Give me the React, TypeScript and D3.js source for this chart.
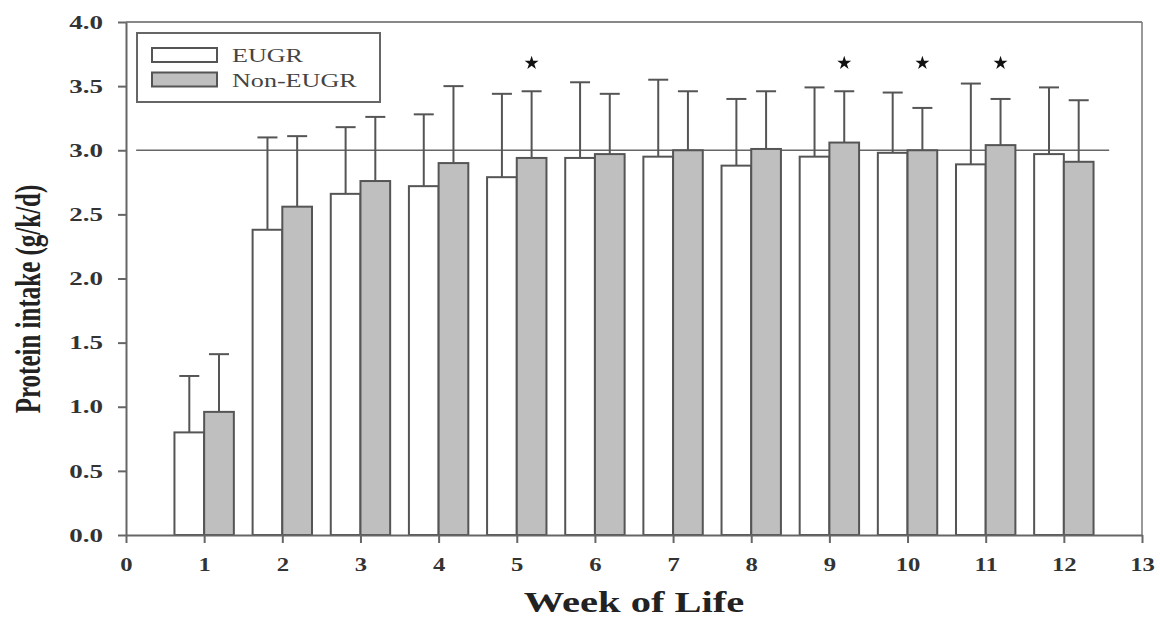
import {useEffect, useRef} from 'react'
import * as d3 from 'd3'

// values (mean and SD per week)
const weeks = [1, 2, 3, 4, 5, 6, 7, 8, 9, 10, 11, 12]
const eugrMean = [0.80, 2.38, 2.66, 2.72, 2.79, 2.94, 2.95, 2.88, 2.95, 2.98, 2.89, 2.97]
const eugrSd = [0.44, 0.72, 0.52, 0.56, 0.65, 0.59, 0.60, 0.52, 0.54, 0.47, 0.63, 0.52]
const nonMean = [0.96, 2.56, 2.76, 2.90, 2.94, 2.97, 3.00, 3.01, 3.06, 3.00, 3.04, 2.91]
const nonSd = [0.45, 0.55, 0.50, 0.60, 0.52, 0.47, 0.46, 0.45, 0.40, 0.33, 0.36, 0.48]
const starWeeks = [5, 9, 10, 11]
const yTicks = [0, 0.5, 1.0, 1.5, 2.0, 2.5, 3.0, 3.5, 4.0]
const xTicks = [0, 1, 2, 3, 4, 5, 6, 7, 8, 9, 10, 11, 12, 13]
const seriesNames = ['EUGR', 'Non-EUGR']
const target = 3.0

const FONT = '"Liberation Serif", "Times New Roman", serif'
const LINE = '#555'
const GREY = '#bfbfbf'

function App(){
    const svg = useRef(null)

    useEffect(() => {
        document.body.style.margin = '0'

        const x = d3.scaleLinear().domain([0, 13]).range([126, 1142])
        const y = d3.scaleLinear().domain([0, 4]).range([535, 22])
        const bw = 0.38

        const svgRef = d3.select(svg.current)
        svgRef.selectAll('*').remove()
        const g = svgRef.append('g')

        //frame: top and right sides
        g.append('line')
            .attr('x1', x(0)).attr('x2', x(13)).attr('y1', y(4)).attr('y2', y(4))
            .attr('stroke', '#888').attr('stroke-width', 2)
        g.append('line')
            .attr('x1', x(13)).attr('x2', x(13)).attr('y1', y(4)).attr('y2', y(0))
            .attr('stroke', '#777').attr('stroke-width', 1.5)

        //reference line at 3.0
        g.append('line')
            .attr('x1', x(0.13)).attr('x2', x(12.58)).attr('y1', y(target)).attr('y2', y(target))
            .attr('stroke', '#666').attr('stroke-width', 1.5)

        //bars
        const series = [
            {mean: eugrMean, sd: eugrSd, fill: '#fff', off: -bw},
            {mean: nonMean, sd: nonSd, fill: GREY, off: 0},
        ]
        series.forEach((s) => {
            //error bars first, bars drawn on top
            g.append('g').selectAll('line.w')
                .data(weeks)
                .join('line')
                    .attr('x1', (d) => x(d + s.off + bw / 2))
                    .attr('x2', (d) => x(d + s.off + bw / 2))
                    .attr('y1', (d, i) => y(s.mean[i]))
                    .attr('y2', (d, i) => y(s.mean[i] + s.sd[i]))
                    .attr('stroke', LINE).attr('stroke-width', 2)
            g.append('g').selectAll('line.c')
                .data(weeks)
                .join('line')
                    .attr('x1', (d) => x(d + s.off + bw / 2) - 10)
                    .attr('x2', (d) => x(d + s.off + bw / 2) + 10)
                    .attr('y1', (d, i) => y(s.mean[i] + s.sd[i]))
                    .attr('y2', (d, i) => y(s.mean[i] + s.sd[i]))
                    .attr('stroke', LINE).attr('stroke-width', 2)
        })
        series.forEach((s) => {
            g.append('g').selectAll('rect')
                .data(weeks)
                .join('rect')
                    .attr('x', (d) => x(d + s.off))
                    .attr('y', (d, i) => y(s.mean[i]))
                    .attr('width', x(bw) - x(0))
                    .attr('height', (d, i) => y(0) - y(s.mean[i]))
                    .attr('fill', s.fill)
                    .attr('stroke', LINE)
                    .attr('stroke-width', 2)
        })

        //significance stars above the Non-EUGR bars
        g.append('g').selectAll('path')
            .data(starWeeks)
            .join('path')
                .attr('transform', (d) => `translate(${x(d + bw / 2)},${y(3.68)})`)
                .attr('d', d3.symbol().type(d3.symbolStar).size(60))
                .attr('fill', '#111')

        //y axis
        const yAxis = g.append('g')
            .attr('transform', `translate(${x(0)},0)`)
            .call(d3.axisLeft(y).tickValues(yTicks).tickFormat(d3.format('.1f')).tickSize(8).tickSizeOuter(0))
        yAxis.select('.domain').attr('stroke', '#666').attr('stroke-width', 2)
        yAxis.selectAll('.tick line').attr('stroke', '#666').attr('stroke-width', 2)
        yAxis.selectAll('.tick text')
            .attr('x', 0)
            .attr('dy', '0.34em')
            .attr('transform', 'translate(-23,0) scale(1.5,1)')
            .style('font', `bold 18px ${FONT}`)
            .attr('fill', '#333')

        //x axis
        const xAxis = g.append('g')
            .attr('transform', `translate(0,${y(0)})`)
            .call(d3.axisBottom(x).tickValues(xTicks).tickFormat(d3.format('d')).tickSize(8).tickSizeOuter(0))
        xAxis.select('.domain').attr('stroke', '#666').attr('stroke-width', 2)
        xAxis.selectAll('.tick line').attr('stroke', '#666').attr('stroke-width', 2)
        xAxis.selectAll('.tick text')
            .attr('y', 0)
            .attr('dy', '0.71em')
            .attr('transform', 'translate(0,23) scale(1.3,1)')
            .style('font', `bold 19px ${FONT}`)
            .attr('fill', '#333')

        //axis titles
        g.append('text')
            .attr('transform', `translate(634,612) scale(1.35,1)`)
            .attr('text-anchor', 'middle')
            .style('font', `bold 30px ${FONT}`)
            .attr('fill', '#222')
            .text('Week of Life')
        g.append('text')
            .attr('transform', `translate(40,299) scale(1.4,1) rotate(-90)`)
            .attr('text-anchor', 'middle')
            .style('font', `bold 25px ${FONT}`)
            .attr('fill', '#222')
            .text('Protein intake (g/k/d)')

        //legend
        const lg = g.append('g')
        lg.append('rect')
            .attr('x', 137).attr('y', 33).attr('width', 243).attr('height', 69)
            .attr('fill', '#fff').attr('stroke', '#666').attr('stroke-width', 2)
        seriesNames.forEach((name, i) => {
            lg.append('rect')
                .attr('x', 152).attr('y', 48 + i * 24.5).attr('width', 65).attr('height', 14)
                .attr('fill', i === 0 ? '#fff' : GREY)
                .attr('stroke', LINE).attr('stroke-width', 2)
            lg.append('text')
                .attr('transform', `translate(232,${62 + i * 25}) scale(1.45,1)`)
                .style('font', `18px ${FONT}`)
                .attr('fill', '#444')
                .text(name)
        })
    }, [])

    return(
        <svg ref={svg} width={1160} height={619} style={{display: 'block', background: '#fff'}}></svg>
    )
}

export default App
